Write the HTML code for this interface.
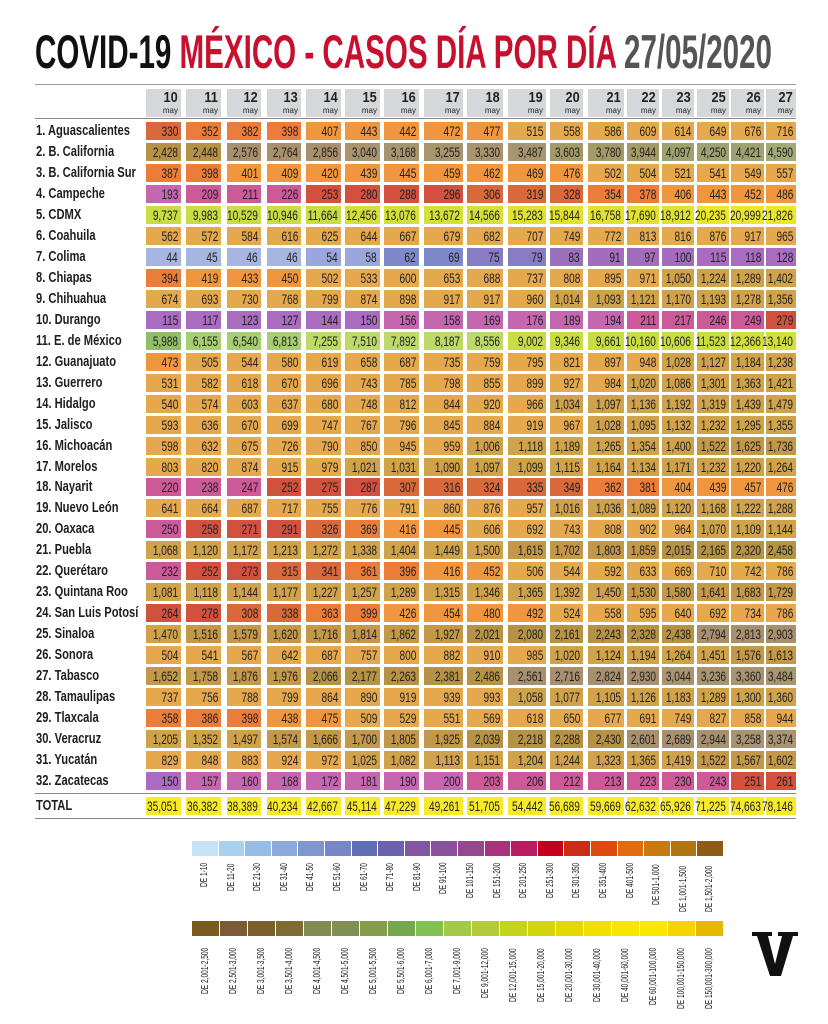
<!DOCTYPE html>
<html><head><meta charset="utf-8">
<style>
body{margin:0;background:#fff;width:828px;height:1024px;overflow:hidden;position:relative;font-family:"Liberation Sans",sans-serif}
.ab{position:absolute}
.c{position:absolute;height:18px;line-height:18px;font-size:14px;color:#222;box-sizing:border-box}
.c span{position:absolute;right:3px;top:0;white-space:nowrap;transform:scaleX(0.72);transform-origin:right center}
.h{position:absolute;background:#d6d7da;color:#222;font-weight:bold}
.h .d{position:absolute;right:3px;top:1px;font-size:15px;line-height:15px;transform:scaleX(0.85);transform-origin:right center}
.h .m{position:absolute;right:3px;top:17px;font-size:8px;line-height:10px;font-weight:normal}
.lbl{position:absolute;left:36px;font-size:14.5px;font-weight:bold;color:#1e1e1e;height:18px;line-height:18px;white-space:nowrap}
.lbl span{display:inline-block;transform:scaleX(0.77);transform-origin:left center}
.line{position:absolute;left:35px;width:761px;height:1px;background:#888}
.sw{position:absolute;height:15px}
.lg{position:absolute;font-size:10px;color:#222;white-space:nowrap;transform-origin:0 0;transform:rotate(-90deg) scaleX(0.66)}
</style></head><body>
<svg class="ab" style="left:0;top:0" width="828" height="80">
<text x="35" y="68" font-family="Liberation Sans" font-weight="bold" font-size="47" textLength="737" lengthAdjust="spacingAndGlyphs"><tspan fill="#111">COVID-19 </tspan><tspan fill="#c8102e">MÉXICO - CASOS DÍA POR DÍA </tspan><tspan fill="#555">27/05/2020</tspan></text>
</svg>
<div class="line" style="top:84px;background:#999"></div>
<div class="line" style="top:118px"></div>
<div class="line" style="top:793px"></div>
<div class="line" style="top:818px"></div>
<div id="t"></div>
<svg class="ab" style="left:752px;top:932px" width="46" height="44"><path d="M0 0H20V4H16L23 32L30 4H26V0H46V4H41L29 44H18L5 4H0Z" fill="#111"/></svg>
<script>
var cols=[[146,181],[186,221],[227,261],[267,301],[306,341],[345,380],[384,419],[424,463],[467,503],[508,546],[550,583],[588,624],[627,659],[662,694],[697,729],[731,764],[766,796]];
var days=["10","11","12","13","14","15","16","17","18","19","20","21","22","23","25","26","27"];
var rows=[
["1. Aguascalientes","330 352 382 398 407 443 442 472 477 515 558 586 609 614 649 676 716"],
["2. B. California","2,428 2,448 2,576 2,764 2,856 3,040 3,168 3,255 3,330 3,487 3,603 3,780 3,944 4,097 4,250 4,421 4,590"],
["3. B. California Sur","387 398 401 409 420 439 445 459 462 469 476 502 504 521 541 549 557"],
["4. Campeche","193 209 211 226 253 280 288 296 306 319 328 354 378 406 443 452 486"],
["5. CDMX","9,737 9,983 10,529 10,946 11,664 12,456 13,076 13,672 14,566 15,283 15,844 16,758 17,690 18,912 20,235 20,999 21,826"],
["6. Coahuila","562 572 584 616 625 644 667 679 682 707 749 772 813 816 876 917 965"],
["7. Colima","44 45 46 46 54 58 62 69 75 79 83 91 97 100 115 118 128"],
["8. Chiapas","394 419 433 450 502 533 600 653 688 737 808 895 971 1,050 1,224 1,289 1,402"],
["9. Chihuahua","674 693 730 768 799 874 898 917 917 960 1,014 1,093 1,121 1,170 1,193 1,278 1,356"],
["10. Durango","115 117 123 127 144 150 156 158 169 176 189 194 211 217 246 249 279"],
["11. E. de México","5,988 6,155 6,540 6,813 7,255 7,510 7,892 8,187 8,556 9,002 9,346 9,661 10,160 10,606 11,523 12,366 13,140"],
["12. Guanajuato","473 505 544 580 619 658 687 735 759 795 821 897 948 1,028 1,127 1,184 1,238"],
["13. Guerrero","531 582 618 670 696 743 785 798 855 899 927 984 1,020 1,086 1,301 1,363 1,421"],
["14. Hidalgo","540 574 603 637 680 748 812 844 920 966 1,034 1,097 1,136 1,192 1,319 1,439 1,479"],
["15. Jalisco","593 636 670 699 747 767 796 845 884 919 967 1,028 1,095 1,132 1,232 1,295 1,355"],
["16. Michoacán","598 632 675 726 790 850 945 959 1,006 1,118 1,189 1,265 1,354 1,400 1,522 1,625 1,736"],
["17. Morelos","803 820 874 915 979 1,021 1,031 1,090 1,097 1,099 1,115 1,164 1,134 1,171 1,232 1,220 1,264"],
["18. Nayarit","220 238 247 252 275 287 307 316 324 335 349 362 381 404 439 457 476"],
["19. Nuevo León","641 664 687 717 755 776 791 860 876 957 1,016 1,036 1,089 1,120 1,168 1,222 1,288"],
["20. Oaxaca","250 258 271 291 326 369 416 445 606 692 743 808 902 964 1,070 1,109 1,144"],
["21. Puebla","1,068 1,120 1,172 1,213 1,272 1,338 1,404 1,449 1,500 1,615 1,702 1,803 1,859 2,015 2,165 2,320 2,458"],
["22. Querétaro","232 252 273 315 341 361 396 416 452 506 544 592 633 669 710 742 786"],
["23. Quintana Roo","1,081 1,118 1,144 1,177 1,227 1,257 1,289 1,315 1,346 1,365 1,392 1,450 1,530 1,580 1,641 1,683 1,729"],
["24. San Luis Potosí","264 278 308 338 363 399 426 454 480 492 524 558 595 640 692 734 786"],
["25. Sinaloa","1,470 1,516 1,579 1,620 1,716 1,814 1,862 1,927 2,021 2,080 2,161 2,243 2,328 2,438 2,794 2,813 2,903"],
["26. Sonora","504 541 567 642 687 757 800 882 910 985 1,020 1,124 1,194 1,264 1,451 1,576 1,613"],
["27. Tabasco","1,652 1,758 1,876 1,976 2,066 2,177 2,263 2,381 2,486 2,561 2,716 2,824 2,930 3,044 3,236 3,360 3,484"],
["28. Tamaulipas","737 756 788 799 864 890 919 939 993 1,058 1,077 1,105 1,126 1,183 1,289 1,300 1,360"],
["29. Tlaxcala","358 386 398 438 475 509 529 551 569 618 650 677 691 749 827 858 944"],
["30. Veracruz","1,205 1,352 1,497 1,574 1,666 1,700 1,805 1,925 2,039 2,218 2,288 2,430 2,601 2,689 2,944 3,258 3,374"],
["31. Yucatán","829 848 883 924 972 1,025 1,082 1,113 1,151 1,204 1,244 1,323 1,365 1,419 1,522 1,567 1,602"],
["32. Zacatecas","150 157 160 168 172 181 190 200 203 206 212 213 223 230 243 251 261"]];
var total="35,051 36,382 38,389 40,234 42,667 45,114 47,229 49,261 51,705 54,442 56,689 59,669 62,632 65,926 71,225 74,663 78,146";
var bins=[[10,"#cde6f5"],[20,"#b8d6f0"],[30,"#b0c4ea"],[40,"#a9b8e2"],[50,"#a7b6e0"],[60,"#9aa6dc"],[70,"#8088cc"],[80,"#8a7cc4"],[90,"#9a70bc"],[100,"#a46cbc"],[150,"#a96cc0"],[200,"#c466b0"],[250,"#cc5a98"],[300,"#d2503e"],[350,"#d9683a"],[400,"#ec7c3a"],[500,"#f0963e"],[1000,"#e6a84c"],[1500,"#d0a24a"],[2000,"#c39848"],[2500,"#b69244"],[3000,"#a8906e"],[3500,"#a8946e"],[4000,"#a49a68"],[4500,"#9ea270"],[5000,"#a2aa78"],[6000,"#8fbf6a"],[7000,"#a6cf74"],[9000,"#bcd96a"],[12000,"#c8dc44"],[15000,"#d4e03a"],[20000,"#e0e232"],[30000,"#eae62c"],[40000,"#f4ea2c"],[60000,"#f7e828"],[1e9,"#f8e426"]];
function col(v){for(var i=0;i<bins.length;i++)if(v<=bins[i][0])return bins[i][1];}
var h="";
for(var j=0;j<17;j++){var c=cols[j];h+='<div class="h" style="left:'+c[0]+'px;top:89px;width:'+(c[1]-c[0])+'px;height:28px"><div class="d">'+days[j]+'</div><div class="m">may</div></div>';}
function row(y,vals,bg){var a=vals.split(" ");for(var j=0;j<17;j++){var c=cols[j];var v=parseInt(a[j].replace(/,/g,""));h+='<div class="c" style="left:'+c[0]+'px;top:'+y+'px;width:'+(c[1]-c[0])+'px;background:'+(bg||col(v))+'"><span>'+a[j]+'</span></div>';}}
for(var i=0;i<32;i++){var y=Math.round(122+i*20.97);h+='<div class="lbl" style="top:'+y+'px"><span>'+rows[i][0]+'</span></div>';row(y,rows[i][1]);}
h+='<div class="lbl" style="top:797px"><span>TOTAL</span></div>';row(797,total,"#f7ea2a");
var l1=["DE 1-10","DE 11-20","DE 21-30","DE 31-40","DE 41-50","DE 51-60","DE 61-70","DE 71-80","DE 81-90","DE 91-100","DE 101-150","DE 151-200","DE 201-250","DE 251-300","DE 301-350","DE 351-400","DE 401-500","DE 501-1,000","DE 1,001-1,500","DE 1,501-2,000"];
var c1=["#c6e3f5","#a9d0ef","#95bde5","#8fa9da","#7f96cf","#7686c6","#5e6fb5","#6a62ad","#84569f","#8b529c","#96488f","#a8327d","#b81d62","#c4001a","#c92d14","#dd4a0f","#e06a10","#c87a10","#b07510","#8e5c14"];
var l2=["DE 2,001-2,500","DE 2,501-3,000","DE 3,001-3,500","DE 3,501-4,000","DE 4,001-4,500","DE 4,501-5,000","DE 5,001-5,500","DE 5,501-6,000","DE 6,001-7,000","DE 7,001-9,000","DE 9,001-12,000","DE 12,001-15,000","DE 15,001-20,000","DE 20,001-30,000","DE 30,001-40,000","DE 40,001-60,000","DE 60,001-100,000","DE 100,001-150,000","DE 150,001-300,000"];
var c2=["#7a5a1e","#7d5a36","#7c6030","#7d6d32","#7f8a55","#7f8f55","#849e4e","#73a84e","#82c050","#a3c84a","#b3cb3a","#c5d21e","#d3d60c","#e3d800","#f0e000","#f7e600","#fbe800","#f5d400","#e6b800"];
var w=532/19;
for(var k=0;k<20;k++){var x=192+k*(532/20);h+='<div class="sw" style="left:'+x+'px;top:841px;width:'+(532/20-1)+'px;background:'+c1[k]+'"></div><div class="lg" style="left:'+(x+7)+'px;top:'+(862+l1[k].length*3.6)+'px">'+l1[k]+'</div>';}
for(var k=0;k<19;k++){var x=192+k*w;h+='<div class="sw" style="left:'+x+'px;top:921px;width:'+(w-1)+'px;background:'+c2[k]+'"></div><div class="lg" style="left:'+(x+8)+'px;top:'+(944+l2[k].length*3.6)+'px">'+l2[k]+'</div>';}
document.getElementById("t").innerHTML=h;
</script>
</body></html>
